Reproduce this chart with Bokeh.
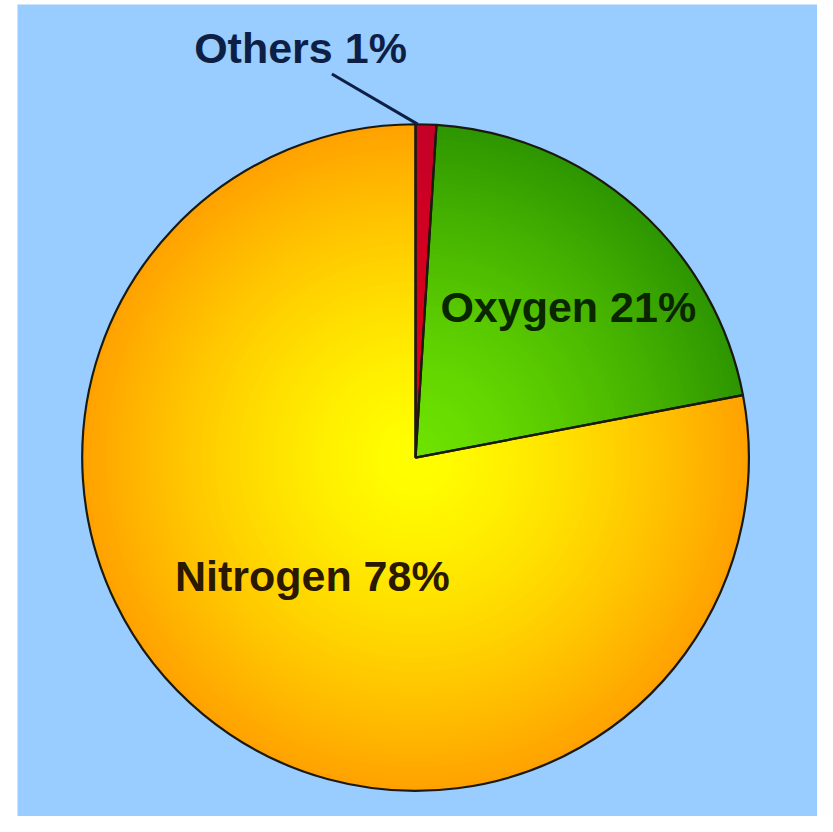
import numpy as np
from bokeh.plotting import figure
from bokeh.models import Range1d, ColumnDataSource
from bokeh.embed import file_html
from bokeh.resources import INLINE
from bokeh.core.properties import value

# ---- data ----
labels = ["Others", "Oxygen", "Nitrogen"]
percents = [1, 21, 78]
label_texts = ["Others 1%", "Oxygen 21%", "Nitrogen 78%"]

# ---- style / layout ----
inner_colors = [(226, 0, 24), (110, 226, 0), (255, 255, 0)]
outer_colors = [(196, 0, 40), (46, 150, 0), (255, 162, 0)]
text_colors = ["#0d1f45", "#0a2600", "#2a1800"]
label_radius = [418, 208, 173]
label_nudge_deg = [18.1, -7.1, 2.1]
TEXT_LIFT = 16

CX, CY = 423, 366
R = 340
STEPS = 70

p = figure(width=817, height=816, x_range=Range1d(17, 833), y_range=Range1d(0, 828),
           output_backend="svg", toolbar_location=None,
           min_border_left=17, min_border_right=0, min_border_top=4, min_border_bottom=0)
p.axis.visible = False
p.grid.visible = False
p.outline_line_color = None
p.background_fill_color = "#99CCFF"
p.border_fill_color = "white"

total = float(sum(percents))
cum = np.concatenate([[0], np.cumsum(percents)]) / total
starts = np.pi / 2 - cum[:-1] * 2 * np.pi
ends = np.pi / 2 - cum[1:] * 2 * np.pi


def hexc(c):
    return "#%02x%02x%02x" % tuple(int(round(v)) for v in c)


rows = dict(radius=[], start=[], end=[], color=[])
for k in range(STEPS, 0, -1):
    frac = k / STEPS
    r = R * frac
    for i in range(len(percents)):
        t = frac ** 1.4
        ci = np.array(inner_colors[i], float)
        co = np.array(outer_colors[i], float)
        rows["radius"].append(r)
        rows["start"].append(starts[i])
        rows["end"].append(ends[i])
        rows["color"].append(hexc(ci + (co - ci) * t))
src = ColumnDataSource(rows)
p.wedge(x=CX, y=CY, radius="radius", start_angle="start", end_angle="end",
        direction="clock", fill_color="color", line_color=None, source=src)

# outlines
p.wedge(x=CX, y=CY, radius=R, start_angle=list(starts), end_angle=list(ends),
        direction="clock", fill_color=None, line_color="#1a1a10", line_width=2.2)

# labels
mids = (starts + ends) / 2
lx, ly = [], []
for i in range(len(percents)):
    a = mids[i] + np.deg2rad(label_nudge_deg[i])
    lx.append(CX + label_radius[i] * np.cos(a))
    ly.append(CY + label_radius[i] * np.sin(a))

# leader line for the small slice
p.line(x=[lx[0] + 32, CX + R * np.cos(starts[0] - 0.006)],
       y=[ly[0] - 10, CY + R * np.sin(starts[0] - 0.006)],
       line_color="#0d1f45", line_width=3)

p.text(x=lx, y=[v + TEXT_LIFT for v in ly], text=label_texts,
       text_font=value("Liberation Sans"),
       text_font_size="43px", text_font_style="bold", text_align="center",
       text_baseline="alphabetic", text_color=text_colors)

open("out.html", "w").write(file_html(p, INLINE))
